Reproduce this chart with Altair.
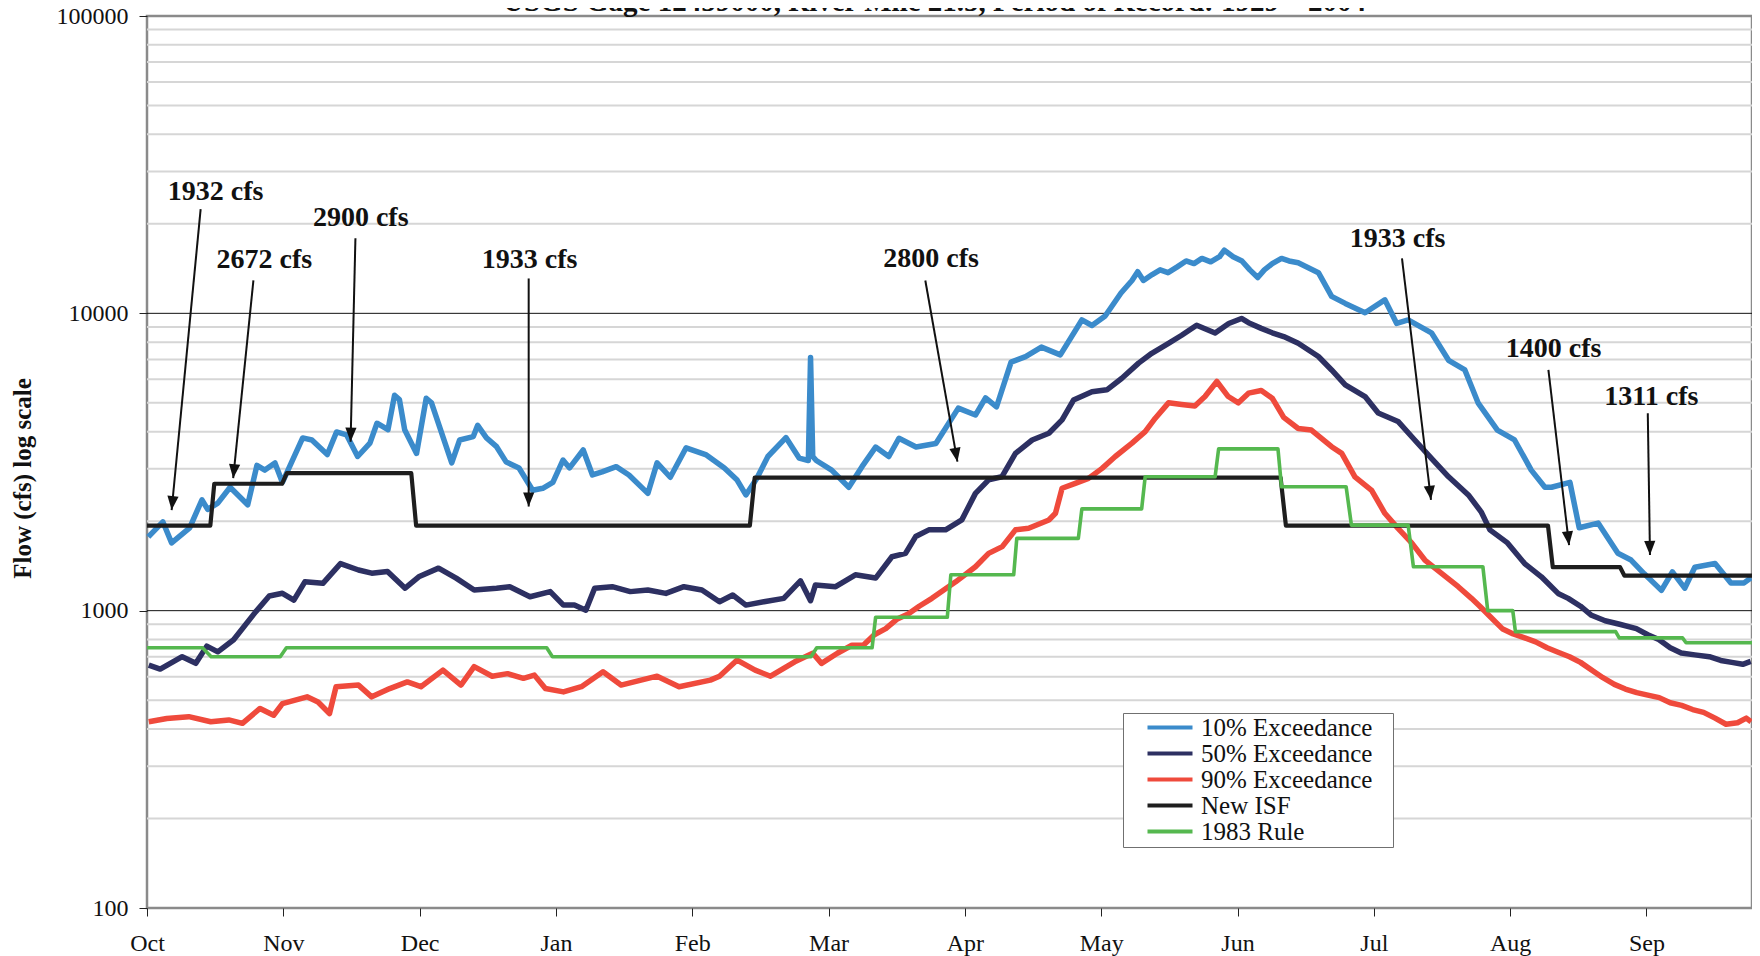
import math
import altair as alt
import pandas as pd

FONT = "Liberation Serif"
TITLE = "USGS Gage 12459000, River Mile 21.5, Period of Record: 1929 \u2013 2004"
Y_TITLE = "Flow (cfs) log scale"

MONTHS = ["Oct", "Nov", "Dec", "Jan", "Feb", "Mar", "Apr", "May", "Jun", "Jul", "Aug", "Sep"]
MONTH_TICK_DAYS = [0, 31, 62, 93, 124, 155, 186, 217, 248, 279, 310, 341]
Y_MAJOR = [100, 1000, 10000, 100000]
Y_MAJOR_GRID = [1000, 10000]
Y_MINOR_GRID = [200, 300, 400, 500, 600, 700, 800, 900,
                2000, 3000, 4000, 5000, 6000, 7000, 8000, 9000,
                20000, 30000, 40000, 50000, 60000, 70000, 80000, 90000]

SERIES = ["10% Exceedance", "50% Exceedance", "90% Exceedance", "New ISF", "1983 Rule"]
COLORS = ["#3b8bcb", "#2d3062", "#ef4a3c", "#1e1e1e", "#55b84f"]
WIDTHS = [5.5, 5.5, 5.5, 4.2, 3.6]

# 10% exceedance (day of water year, cfs)
P10_DAY = [0.3, 3.6, 5.6, 9.7, 12.5, 13.8, 16.1, 18.9, 22.9, 25.0,
           26.8, 29.1, 30.8, 35.4, 37.5, 41.0, 43.1, 45.4, 47.9, 50.7,
           52.3, 54.8, 56.3, 57.4, 58.6, 61.3, 63.5, 64.7, 69.3, 71.1,
           74.2, 75.2, 77.2, 79.5, 81.7, 84.6, 87.7, 90.0, 92.3, 94.6,
           96.1, 99.2, 101.3, 103.5, 106.7, 109.6, 113.9, 116.0, 119.0, 122.6,
           127.2, 131.3, 134.2, 136.2, 138.7, 141.2, 145.3, 148.3, 150.4, 150.9,
           151.4, 152.2, 155.7, 159.6, 162.6, 165.7, 168.7, 171.0, 174.9, 179.4,
           184.5, 188.4, 190.7, 193.2, 196.5, 199.8, 203.4, 207.7, 212.6, 214.9,
           217.9, 221.5, 224.0, 225.3, 226.6, 228.6, 230.4, 232.2, 234.2, 236.3,
           238.1, 239.9, 241.9, 243.9, 245.0, 247.0, 249.0, 250.8, 252.6, 254.1,
           255.9, 258.0, 259.7, 261.8, 266.4, 269.4, 272.5, 277.0, 281.5, 284.2,
           286.8, 292.1, 296.0, 299.7, 302.7, 307.1, 311.0, 314.8, 317.9, 319.4,
           323.6, 325.7, 330.0, 334.5, 337.5, 340.5, 344.4, 346.9, 349.7, 352.0,
           356.6, 360.2, 363.2, 364.8]
P10_CFS = [1770, 1990, 1690, 1900, 2360, 2190, 2300, 2600, 2270, 3080,
           2970, 3140, 2700, 3810, 3750, 3350, 3990, 3900, 3300, 3660,
           4270, 4060, 5300, 5130, 4060, 3380, 5180, 5000, 3140, 3750,
           3850, 4200, 3810, 3560, 3160, 3020, 2540, 2580, 2700, 3210,
           3020, 3470, 2860, 2930, 3050, 2860, 2480, 3140, 2810, 3530,
           3340, 3020, 2750, 2450, 2790, 3300, 3820, 3260, 3200, 7100,
           3300, 3200, 2970, 2600, 3050, 3550, 3300, 3800, 3550, 3650,
           4800, 4550, 5200, 4850, 6850, 7150, 7700, 7250, 9500, 9100,
           9800, 11700, 12900, 13800, 12900, 13500, 14000, 13700, 14300, 15000,
           14700, 15300, 14900, 15500, 16300, 15500, 15000, 14000, 13200, 14000,
           14700, 15300, 15000, 14800, 13700, 11400, 10800, 10050, 11100, 9250,
           9500, 8600, 6950, 6450, 5000, 4050, 3750, 2970, 2600, 2600,
           2700, 1900, 1970, 1560, 1480, 1330, 1170, 1350, 1190, 1400,
           1440, 1240, 1240, 1290]

# 50% exceedance
P50_DAY = [0.4, 3.0, 8.0, 11.1, 13.6, 16.1, 19.7, 24.7, 27.8, 30.8,
           33.4, 35.9, 40.0, 44.0, 48.1, 51.1, 54.7, 58.7, 61.8, 66.3,
           70.3, 74.4, 79.5, 82.5, 87.1, 91.7, 94.7, 97.2, 99.8, 101.8,
           105.8, 109.9, 113.9, 118.0, 122.1, 126.2, 130.2, 133.2, 136.2, 140.3,
           144.8, 148.6, 150.9, 152.0, 156.6, 161.1, 165.7, 169.4, 172.5, 174.8,
           177.8, 181.6, 185.3, 188.4, 191.4, 194.4, 197.5, 201.3, 205.1, 208.1,
           210.7, 214.9, 218.3, 221.7, 225.5, 228.5, 232.3, 235.3, 238.7, 242.9,
           246.0, 248.9, 250.5, 253.4, 255.9, 258.5, 261.8, 266.4, 269.4, 272.5,
           277.0, 280.0, 284.5, 288.3, 292.1, 296.0, 300.5, 303.4, 305.4, 309.4,
           313.3, 317.1, 320.9, 323.2, 326.0, 328.5, 331.6, 334.9, 338.7, 341.3,
           343.8, 346.4, 348.9, 352.0, 355.3, 357.9, 360.4, 362.9, 364.7]
P50_CFS = [656, 636, 700, 665, 760, 727, 798, 991, 1120, 1144,
           1085, 1250, 1236, 1440, 1370, 1337, 1355, 1190, 1300, 1390,
           1287, 1174, 1190, 1204, 1114, 1159, 1044, 1044, 1004, 1190,
           1204, 1159, 1174, 1143, 1204, 1174, 1072, 1129, 1044, 1072,
           1100, 1260, 1080, 1219, 1204, 1320, 1287, 1518, 1558, 1775,
           1870, 1870, 2020, 2480, 2755, 2820, 3380, 3750, 3950, 4380,
           5110, 5450, 5530, 6050, 6800, 7340, 7930, 8440, 9120, 8590,
           9240, 9610, 9300, 8900, 8600, 8350, 7930, 7160, 6450, 5750,
           5250, 4620, 4330, 3750, 3250, 2820, 2450, 2150, 1870, 1690,
           1440, 1300, 1143, 1100, 1035, 965, 925, 900, 870, 830,
           800, 750, 720, 710, 700, 680, 670, 660, 675]

# 90% exceedance
P90_DAY = [0.4, 4.5, 9.5, 14.5, 18.6, 21.7, 25.7, 28.8, 30.8, 36.4,
           38.9, 41.5, 43.0, 48.1, 51.1, 55.2, 59.2, 62.3, 67.3, 71.4,
           74.4, 78.5, 82.0, 85.6, 88.1, 90.6, 94.7, 98.8, 103.7, 107.8,
           116.0, 121.0, 128.1, 130.2, 134.2, 138.3, 141.8, 147.3, 151.4, 153.4,
           157.0, 160.3, 162.9, 165.4, 168.0, 170.5, 173.1, 175.6, 178.5, 183.9,
           188.4, 191.4, 194.5, 197.5, 200.5, 205.1, 206.6, 208.1, 211.1, 214.1,
           217.2, 220.2, 224.0, 227.0, 229.3, 232.3, 235.3, 238.3, 240.6, 243.3,
           245.9, 248.2, 250.5, 253.4, 255.9, 258.5, 261.8, 264.8, 269.4, 271.7,
           274.7, 278.5, 281.5, 284.5, 287.6, 290.6, 294.4, 298.2, 301.2, 303.1,
           305.6, 308.2, 310.7, 313.3, 315.8, 318.4, 320.9, 323.5, 326.0, 328.6,
           331.1, 333.7, 336.2, 338.8, 341.3, 343.9, 346.4, 349.0, 351.5, 354.0,
           356.6, 359.1, 361.7, 363.7, 364.8]
P90_CFS = [423, 434, 440, 423, 429, 418, 469, 445, 487, 513,
           493, 451, 555, 562, 513, 547, 576, 555, 631, 562,
           648, 602, 614, 592, 607, 547, 533, 555, 623, 562,
           602, 555, 584, 602, 682, 631, 602, 673, 719, 665,
           719, 765, 765, 830, 870, 935, 975, 1035, 1100, 1250,
           1405, 1558, 1642, 1870, 1892, 2018, 2126, 2580, 2680, 2785,
           3010, 3300, 3660, 4000, 4440, 5000, 4940, 4880, 5250, 5900,
           5250, 5000, 5390, 5500, 5180, 4470, 4100, 4050, 3560, 3380,
           2820, 2540, 2126, 1892, 1690, 1480, 1335, 1204, 1100, 1035,
           950, 870, 835, 810, 785, 750, 725, 700, 670, 630,
           595, 565, 545, 530, 520, 510, 490, 480, 465, 455,
           435, 415, 420, 435, 423]

# New ISF (step segments)
ISF_START = [0, 15.3, 31.8, 61.2, 138.2, 259.0, 319.7, 336.0]
ISF_END = [14.4, 30.7, 60.1, 137.1, 257.8, 318.6, 335.0, 365.0]
ISF_CFS = [1932, 2672, 2900, 1933, 2800, 1933, 1400, 1311]

# 1983 Rule (step segments)
RULE_START = [0, 14.6, 31.7, 92.2, 152.3, 165.7, 182.8, 197.8, 212.6, 227.0,
              243.7, 258.0, 273.9, 288.0, 304.9, 311.2, 334.8, 350.0]
RULE_END = [12.6, 30.3, 90.9, 151.0, 164.9, 182.0, 197.1, 211.8, 226.2, 242.9,
            257.2, 272.7, 286.8, 303.8, 310.6, 334.0, 349.2, 365.0]
RULE_CFS = [750, 700, 750, 700, 750, 950, 1320, 1750, 2200, 2820,
            3500, 2610, 1940, 1405, 1000, 850, 810, 780]

# Annotations
ANN_TEXT = ["1932 cfs", "2672 cfs", "2900 cfs", "1933 cfs", "2800 cfs", "1933 cfs", "1400 cfs", "1311 cfs"]
ANN_DAY = [15.6, 26.7, 48.6, 87.0, 178.3, 284.4, 319.9, 342.1]
ANN_CFS = [25600, 15100, 20900, 15100, 15200, 17800, 7600, 5230]
ARROW_FROM_DAY = [12.2, 24.2, 47.4, 86.8, 177.0, 285.4, 318.7, 341.3]
ARROW_FROM_CFS = [22400, 12900, 17900, 13100, 12900, 15300, 6450, 4610]
ARROW_TO_DAY = [5.6, 19.6, 46.3, 86.8, 184.3, 292.0, 323.4, 341.8]
ARROW_TO_CFS = [2180, 2790, 3700, 2240, 3170, 2360, 1660, 1540]

W, H = 1605, 892


def steps(starts, ends, vals):
    rows = []
    for s, e, v in zip(starts, ends, vals):
        rows.append((s, v))
        rows.append((e, v))
    return rows


frames = []
for name, days, vals in [(SERIES[0], P10_DAY, P10_CFS), (SERIES[1], P50_DAY, P50_CFS),
                         (SERIES[2], P90_DAY, P90_CFS)]:
    frames.append(pd.DataFrame({"day": days, "cfs": vals, "series": name}))
isf_rows = steps(ISF_START, ISF_END, ISF_CFS)
frames.append(pd.DataFrame({"day": [r[0] for r in isf_rows], "cfs": [r[1] for r in isf_rows], "series": SERIES[3]}))
rule_rows = steps(RULE_START, RULE_END, RULE_CFS)
frames.append(pd.DataFrame({"day": [r[0] for r in rule_rows], "cfs": [r[1] for r in rule_rows], "series": SERIES[4]}))

x_scale = alt.Scale(domain=[0, 365], nice=False, zero=False)
y_scale = alt.Scale(type="log", domain=[100, 100000], nice=False)

month_expr = "[" + ",".join("'%s'" % m for m in MONTHS) + "][indexof(" + str(MONTH_TICK_DAYS) + ", datum.value)]"

x_axis = alt.Axis(values=MONTH_TICK_DAYS, labelExpr=month_expr, grid=False, domain=False,
                  ticks=True, tickSize=8, tickColor="#222222", tickWidth=1,
                  labelFont=FONT, labelFontSize=24, labelColor="#111111", labelFlush=False,
                  labelAlign="center", labelPadding=34, labelBaseline="alphabetic", title=None)
y_axis = alt.Axis(values=Y_MAJOR, format="d", grid=False, domain=False,
                  ticks=True, tickSize=8, tickColor="#222222", tickWidth=1,
                  labelFont=FONT, labelFontSize=24, labelColor="#111111", labelPadding=11,
                  labelFlush=False,
                  title=Y_TITLE, titleFont=FONT, titleFontSize=25, titleFontWeight="bold",
                  titleColor="#111111", titleX=-125, titleY=462, titleAngle=270,
                  titleAlign="center", titleBaseline="middle")


def X(f):
    return alt.X(f, type="quantitative", scale=x_scale, axis=x_axis)


def Y(f):
    return alt.Y(f, type="quantitative", scale=y_scale, axis=y_axis)


BLANK = "\u2800"
legend = alt.Legend(title=None, orient="none", legendX=976, legendY=697, direction="vertical",
                    fillColor="white", strokeColor="#707070", padding=2,
                    labelFont=FONT, labelFontSize=25, labelColor="#111111", labelOffset=18.5,
                    labelLimit=0,
                    symbolType="M-2.25,0L2.25,0", symbolSize=400, symbolStrokeWidth=4,
                    symbolOffset=32.5, rowPadding=0,
                    labelExpr="datum.label + '" + BLANK + "'")
color = alt.Color("series:N", scale=alt.Scale(domain=SERIES, range=COLORS), legend=legend)

layers = []
layers.append(alt.Chart(pd.DataFrame({"cfs": Y_MINOR_GRID})).mark_rule(color="#d6d6d6", strokeWidth=2)
              .encode(y=Y("cfs")))
layers.append(alt.Chart(pd.DataFrame({"cfs": Y_MAJOR_GRID})).mark_rule(color="#111111", strokeWidth=1)
              .encode(y=Y("cfs")))
for name, df, w in zip(SERIES, frames, WIDTHS):
    layers.append(alt.Chart(df).mark_line(strokeWidth=w, strokeJoin="round")
                  .encode(x=X("day"), y=Y("cfs"), color=color))


def px(day):
    return day * W / 365.0


def py(cfs):
    return (5 - math.log10(cfs)) * H / 3.0


angles = []
for fd, fc, td, tc in zip(ARROW_FROM_DAY, ARROW_FROM_CFS, ARROW_TO_DAY, ARROW_TO_CFS):
    dx = px(td) - px(fd)
    dy = py(tc) - py(fc)
    angles.append((-math.degrees(math.atan2(dx, dy))) % 360)

arrows = pd.DataFrame({"d0": ARROW_FROM_DAY, "c0": ARROW_FROM_CFS,
                       "d1": ARROW_TO_DAY, "c1": ARROW_TO_CFS, "ang": angles})
layers.append(alt.Chart(arrows).mark_rule(color="#111111", strokeWidth=2)
              .encode(x=X("d0"), y=Y("c0"), x2="d1", y2="c1"))
layers.append(alt.Chart(arrows).mark_point(shape="M-0.4,-1L0.4,-1L0,0Z", size=784, filled=True,
                                           color="#111111", opacity=1, strokeWidth=0)
              .encode(x=X("d1"), y=Y("c1"), angle=alt.Angle("ang:Q", scale=None)))
ann = pd.DataFrame({"day": ANN_DAY, "cfs": ANN_CFS, "label": ANN_TEXT})
layers.append(alt.Chart(ann).mark_text(font=FONT, fontSize=28, fontWeight="bold", color="#111111",
                                       align="center", baseline="middle")
              .encode(x=X("day"), y=Y("cfs"), text="label:N"))
layers.append(alt.Chart(pd.DataFrame({"t": [TITLE]})).mark_text(font=FONT, fontSize=29, fontWeight="bold",
                                                                  color="#111111", align="center",
                                                                  baseline="alphabetic")
              .encode(x=alt.value(787.5), y=alt.value(-5.5), text="t:N"))

chart = alt.layer(*layers).properties(
    width=W, height=H,
    autosize=alt.AutoSizeParams(type="none"),
    padding={"left": 139, "top": 8, "right": 0, "bottom": 48},
    background="white",
).configure_view(stroke="#8a8a8a", strokeWidth=2.5)

chart.save("out.html", embed_options={"renderer": "svg", "actions": False})
